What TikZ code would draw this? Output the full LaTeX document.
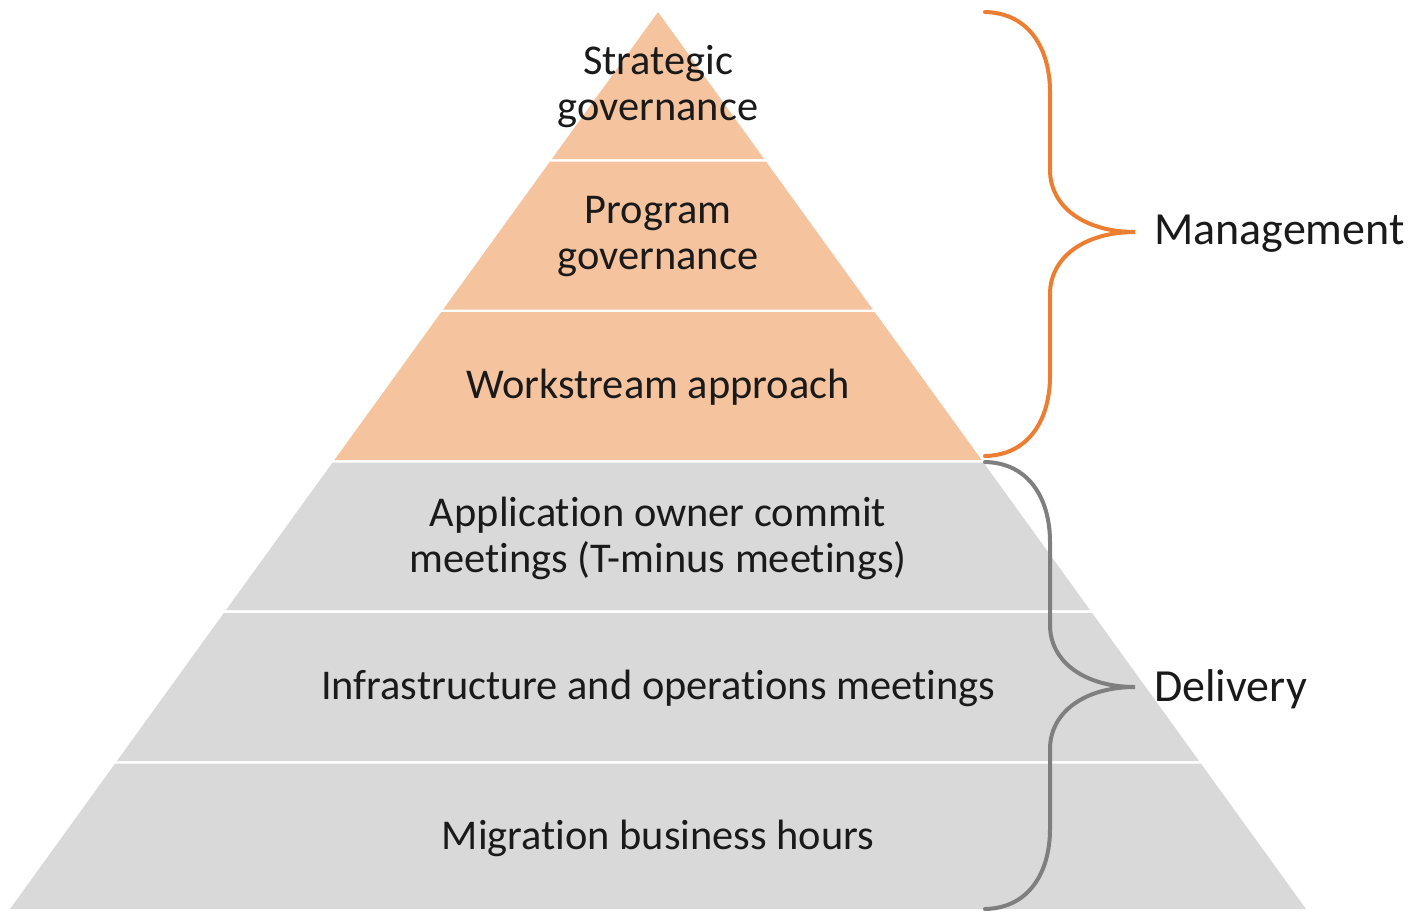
\documentclass[tikz,border=0pt]{standalone}
\usepackage{fontspec}
\setmainfont{Carlito}[Ligatures=NoCommon]
\usepackage{tikz}
\usetikzlibrary{positioning}
\definecolor{mgmtfill}{HTML}{F5C49F}
\definecolor{mgmtline}{HTML}{ED7D31}
\definecolor{delfill}{HTML}{D9D9D9}
\definecolor{delline}{HTML}{7F7F7F}
\definecolor{inktext}{HTML}{1A1A1A}
\newcommand{\tier}[3]{\fill[#1] ({658-0.7224*(#2-12)},#2) -- ({658+0.7224*(#2-12)},#2) -- ({658+0.7224*(#3-12)},#3) -- ({658-0.7224*(#3-12)},#3) -- cycle}
\newcommand{\tiertext}[3]{\node(#1)[tiertext] at (658,#2){#3}}
\newcommand{\sidebrace}[4]{\draw[brace,#1] (985,#2) .. controls (1030,{#2+1}) and (1050,{#2+38}) .. (1050,{#2+80}) -- (1050,{#3-62}) .. controls (1050,{#3-25}) and (1085,#3) .. (1135,#3) .. controls (1085,#3) and (1050,{#3+25}) .. (1050,{#3+62}) -- (1050,{#4-80}) .. controls (1050,{#4-38}) and (1030,{#4-1}) .. (985,#4)}

\begin{document}
\begin{tikzpicture}[
        x=1pt, y=-1pt,
        tiertext/.style={align=center, inner sep=0pt, text=inktext,
                         font=\fontsize{42.4}{46}\selectfont},
        sidelabel/.style={anchor=west, inner sep=0pt, text=inktext,
                          font=\fontsize{46}{50}\selectfont},
        brace/.style={line width=4pt, line cap=round}
      ]
      \useasboundingbox (0,0) rectangle (1423,911);
      % tiers
      \tier{mgmtfill}{12}{159};
      \tier{mgmtfill}{161.5}{309.5};
      \tier{mgmtfill}{312}{460};
      \tier{delfill}{462.5}{610};
      \tier{delfill}{613}{761};
      \tier{delfill}{763.5}{909};
      \tiertext{strat}{87}{Strategic\\governance};
      \tiertext{prog}{237}{Program\\governance};
      \tiertext{work}{387}{Workstream approach};
      \tiertext{app}{538}{Application owner commit\\meetings (T-minus meetings)};
      \tiertext{infra}{688}{Infrastructure and operations meetings};
      \tiertext{migr}{838}{Migration business hours};
      % braces
      \sidebrace{mgmtline}{12}{232}{456};
      \sidebrace{delline}{462}{687}{909};
      \coordinate (mgmttip) at (1135,232);
      \coordinate (deltip) at (1135,687);
      \node(mgmt)[sidelabel, right=19pt of mgmttip, yshift=-2pt]{Management};
      \node(deliv)[sidelabel, right=19pt of deltip, yshift=-2pt]{Delivery};
    \end{tikzpicture}
\end{document}
